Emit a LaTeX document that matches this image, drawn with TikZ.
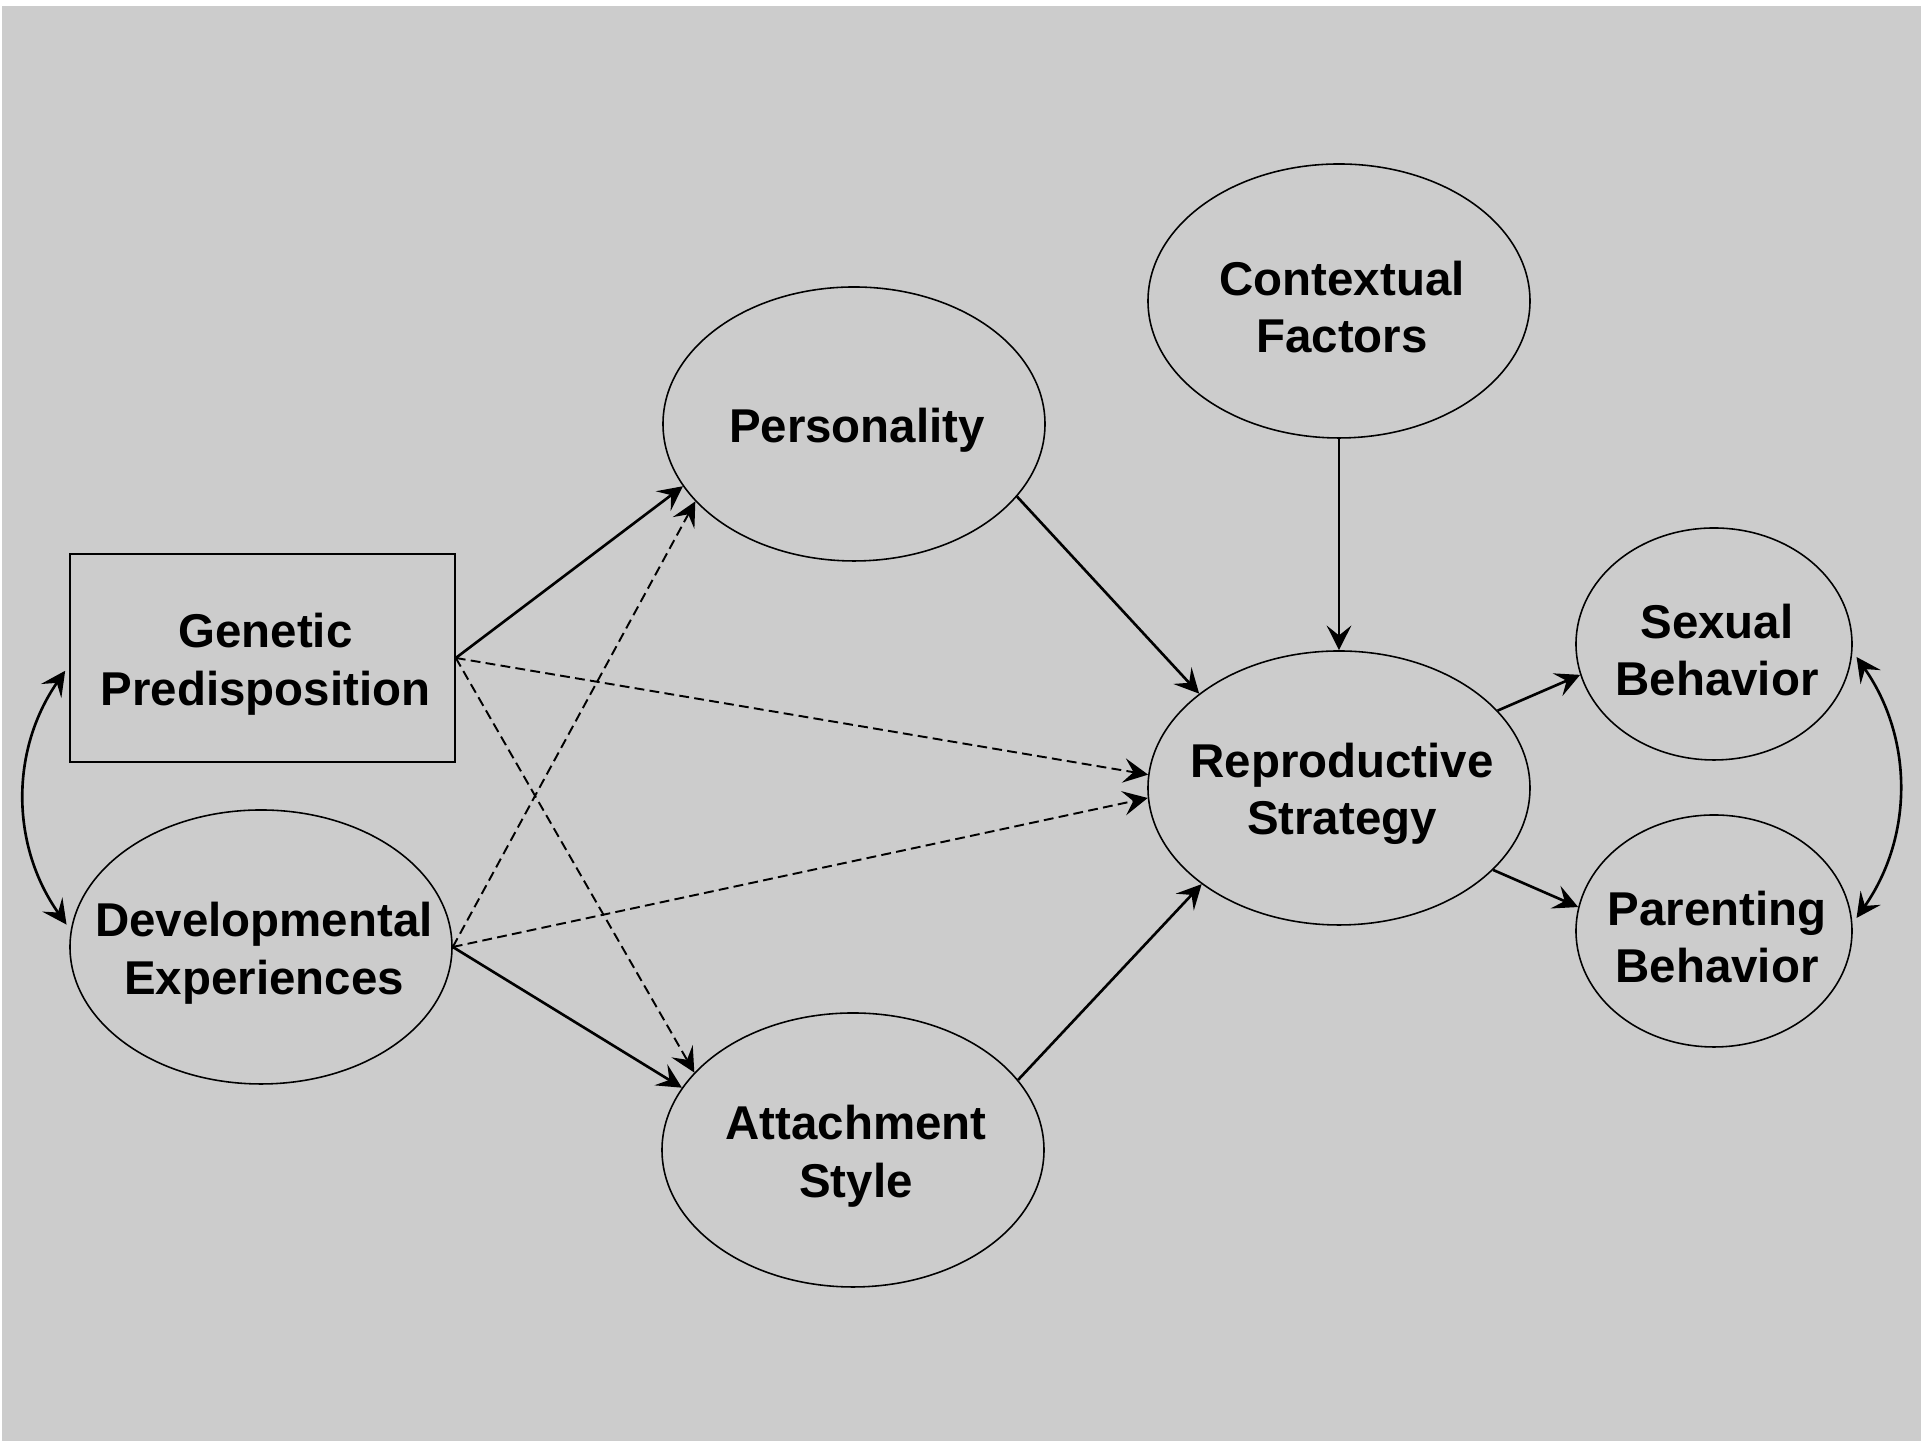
\documentclass[tikz,border=0pt]{standalone}
\usepackage{fontspec}
\setmainfont{Liberation Sans}
\usetikzlibrary{shapes.geometric,arrows.meta}
\definecolor{bg}{HTML}{CCCCCC}
\begin{document}
\begin{tikzpicture}[x=1cm,y=1cm,
  mytip/.tip={Stealth[length=7pt,width=7pt,inset=2.8pt]},
  ell/.style={draw, ellipse, line width=0.45pt, minimum width=3.82cm, minimum height=2.74cm, inner sep=0pt},
  sell/.style={ell, minimum width=2.76cm, minimum height=2.32cm},
  txt/.style={font=\fontsize{13.5}{16.4}\selectfont\bfseries, align=center, yshift=-0.06cm, xshift=0.03cm},
  arr/.style={-mytip, line width=0.75pt},
  darr/.style={-mytip, line width=0.55pt, dash pattern=on 2.8pt off 1.5pt},
  dbl/.style={mytip-mytip, line width=0.75pt, shorten <=2pt, shorten >=2pt},
]
\useasboundingbox (0,0) rectangle (19.21,14.41);
\fill[white] (0,0) rectangle (19.21,14.41);
\fill[bg] (0.02,0) rectangle (19.21,14.35);

\node[draw, rectangle, line width=0.45pt, minimum width=3.85cm, minimum height=2.08cm, inner sep=0pt, label={[txt]center:Genetic\\Predisposition}] (gen) at (2.625,7.83) {};
\node[ell, label={[txt]center:Developmental\\Experiences}] (dev) at (2.61,4.94) {};
\node[ell, label={[txt]center:Personality}] (per) at (8.54,10.17) {};
\node[ell, label={[txt]center:Attachment\\Style}] (att) at (8.53,2.91) {};
\node[ell, label={[txt]center:Contextual\\Factors}] (ctx) at (13.39,11.40) {};
\node[ell, label={[txt]center:Reproductive\\Strategy}] (rep) at (13.39,6.53) {};
\node[sell, label={[txt]center:Sexual\\Behavior}] (sex) at (17.14,7.97) {};
\node[sell, label={[txt]center:Parenting\\Behavior}] (par) at (17.14,5.10) {};

\draw[arr] (gen.east) -- (per.200);
\draw[darr] (dev.east) -- (per.206);
\draw[darr] (gen.east) -- (att.154);
\draw[arr] (dev.east) -- (att.160);
\draw[darr] (gen.east) -- (rep.176);
\draw[darr] (dev.east) -- (rep.183);
\draw[arr] (per.336) -- (rep.146);
\draw[arr] (att.23) -- (rep.215);
\draw[arr] (ctx.south) -- (rep.north);
\draw[arr] (rep.26) -- (sex.193);
\draw[arr] (rep.332) -- (par.170);

\draw[dbl] ([yshift=-0.07cm]gen.west) to[bend right=35] (dev.175);
\draw[dbl] (sex.357) to[bend left=35] (par.3);
\end{tikzpicture}
\end{document}
